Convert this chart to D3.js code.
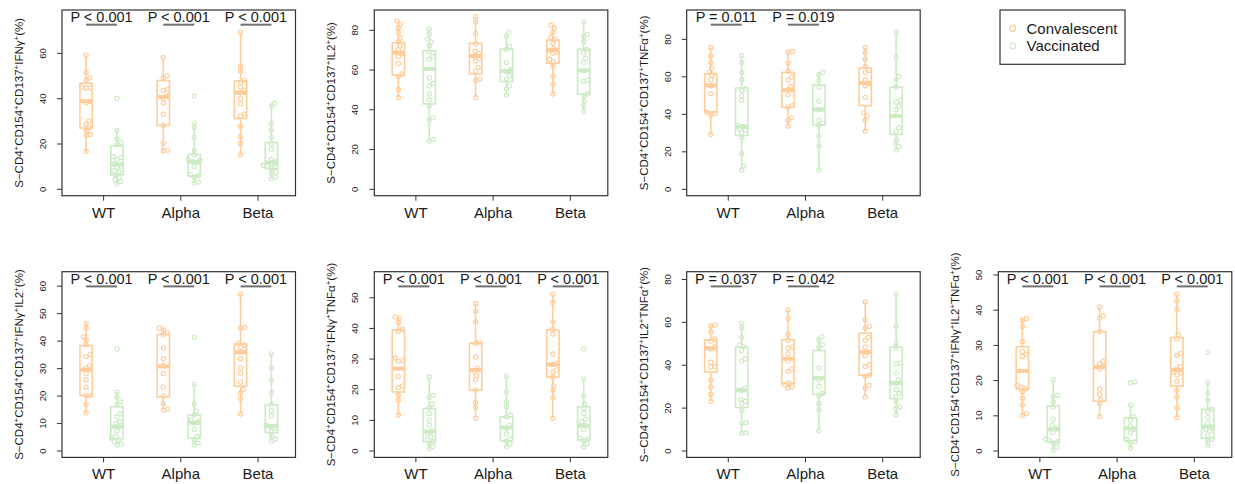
<!DOCTYPE html>
<html><head><meta charset="utf-8">
<script src="https://cdn.jsdelivr.net/npm/d3@7"></script>
<style>body{margin:0;background:#fff}svg{display:block}text{font-family:"Liberation Sans",Arial,Helvetica,sans-serif}</style>
</head><body>
<svg id="chart" width="1235" height="484"></svg>
<script>
const variants = ["WT", "Alpha", "Beta"];
const seriesNames = ["Convalescent", "Vaccinated"];
const seriesColors = ["#FFCD9C", "#CCEBC4"];

// ---- Panel 1: IFNγ ----
const ifngConv = [
  [59, 51.5, 49, 48, 45, 44.5, 44.5, 38.5, 38, 30, 28.5, 27, 25.5, 24, 23.5, 16.5],
  [58, 50, 49, 44, 43.5, 41, 40, 38, 33, 28, 20, 17, 16.8],
  [69, 54, 52, 48, 47, 45, 43.5, 42.5, 40, 37.5, 33, 32, 27.5, 23, 20, 15]
];
const ifngVacc = [
  [40, 25.8, 22, 20.5, 19.6, 14.2, 13.8, 13, 11, 10, 9.5, 8, 7.5, 6.2, 5, 4, 3.2, 2.2],
  [41, 29, 27, 22.8, 17, 15, 13, 12.5, 12, 11.5, 9.8, 6.2, 5.8, 5, 3, 2.5],
  [37.8, 36.5, 29, 26, 22.8, 20, 17.6, 13, 12, 11, 10.4, 10, 9.5, 9, 7.5, 7, 5.2, 4.5]
];
const ifngConvBox = [[16.4, 26.8, 38.7, 46.6, 59], [16.5, 28, 40.6, 47.8, 58], [15, 31.1, 42.4, 47.6, 69]];
const ifngVaccBox = [[2.2, 6.2, 10.8, 18.9, 25.8], [2.5, 5.7, 11.9, 15.2, 29], [4.5, 8.9, 11.6, 20.4, 37.8]];
const ifngP = ["< 0.001", "< 0.001", "< 0.001"];
const ifngTicks = [0, 20, 40, 60];

// ---- Panel 2: IL2 ----
const il2Conv = [
  [84.5, 83, 81, 78.7, 76, 74, 72, 70, 68, 66.5, 63, 57.8, 56.5, 50, 46],
  [86.5, 84, 78.3, 73, 69.2, 68.2, 66.8, 65.5, 64.3, 61, 59.2, 55.2, 54.5, 46],
  [82.3, 80.8, 78.7, 76.2, 75.2, 73.2, 70.7, 69.8, 69, 68.2, 65.2, 64, 61.8, 56.5, 52.5, 47.7]
];
const il2Vacc = [
  [80.3, 78, 75.2, 74, 72, 69, 66.5, 65.2, 55.8, 53, 51.8, 47.7, 44.8, 41.8, 35.7, 34.5, 24.8, 24],
  [78.7, 76.8, 71.8, 70.2, 63.5, 59.8, 59, 56.8, 55.2, 51.8, 50.2, 47.3],
  [83.8, 77.7, 76.5, 74, 70.2, 68.5, 65.7, 63.7, 59.5, 54.8, 54, 47.7, 46.5, 44, 41.8, 39]
];
const il2ConvBox = [[46, 57.3, 68.5, 73.5, 84.5], [46, 57.8, 66.8, 73.2, 86.5], [47.7, 63.2, 69.8, 74.8, 82.3]];
const il2VaccBox = [[24, 42.7, 60.3, 69.5, 80.3], [47.3, 54, 59.3, 70.3, 78.7], [39, 47.7, 59.5, 70.2, 83.8]];
const il2P = [null, null, null];
const il2Ticks = [0, 20, 40, 60, 80];

// ---- Panel 3: TNFα ----
const tnfConv = [
  [75.4, 71, 67.4, 64.4, 62.3, 60.4, 58.2, 55, 50.8, 40.9, 40.2, 39.6, 29],
  [73.3, 72.9, 67.1, 62.7, 59.6, 58.2, 54.7, 52.9, 50.3, 44.4, 43.7, 37.9, 36.6, 33.5],
  [75.4, 72.7, 69.2, 65.3, 63.2, 62.1, 58.2, 56.1, 55, 48.8, 40.5, 38.8, 36.6, 30.8]
];
const tnfVacc = [
  [71, 67.4, 62.1, 58.2, 53.3, 52.4, 49.7, 47.3, 34, 33.3, 32, 31.2, 29.9, 27.3, 18.9, 12.2, 10.1],
  [62.1, 60.9, 57.7, 54.3, 46.7, 42.3, 36.6, 34.9, 34, 28.1, 22.8, 10.1],
  [83.4, 70.3, 60, 58.2, 54.3, 47.1, 46.2, 44.1, 42.3, 39.1, 32.6, 30.8, 26.4, 24.1, 22.5, 20.7]
];
const tnfConvBox = [[29, 41, 55.2, 61.4, 75.4], [33.5, 43.5, 52.6, 62.1, 73.3], [30.8, 44.4, 56.5, 64.4, 75.4]];
const tnfVaccBox = [[10.1, 28.5, 33.1, 53.8, 71], [10.1, 34.2, 42.3, 55.4, 62.1], [20.7, 29, 38.8, 54.2, 83.4]];
const tnfP = ["= 0.011", "= 0.019", null];
const tnfTicks = [0, 20, 40, 60, 80];

// ---- Panel 4: IFNγ IL2 ----
const ifngIl2Conv = [
  [46.3, 44.6, 41.4, 40.2, 38.6, 34.9, 34.2, 31, 30, 28, 25.8, 23.1, 20.1, 20, 16.7, 13.7],
  [44.6, 43.9, 43, 42.2, 37.3, 33.4, 31, 28, 23.1, 19.8, 17.1, 15.1, 14.7],
  [56.9, 44.8, 44.6, 39, 38.4, 37.6, 35.8, 33.4, 30.1, 28.2, 24.9, 22.2, 21, 18.9, 13.3]
];
const ifngIl2Vacc = [
  [37, 21.3, 19.5, 17.7, 16.9, 13.5, 12.3, 10.5, 9.9, 8.7, 7.2, 5.1, 4.5, 3.9, 3.3, 2.3, 2],
  [41.2, 24.1, 16.9, 14.3, 12.9, 11.1, 10.5, 9.9, 7.7, 5.1, 3.9, 2.7, 2],
  [35.2, 30.1, 25.5, 21, 16.7, 14.5, 12.7, 9.3, 8.7, 8.1, 6.9, 5.1, 4.1, 3.5]
];
const ifngIl2ConvBox = [[13.7, 20, 29.4, 38.2, 46.3], [14.7, 19.5, 30.6, 42.2, 44.6], [13.3, 23.4, 35.8, 38.8, 56.9]];
const ifngIl2VaccBox = [[2, 4.3, 8.7, 15.9, 21.3], [2, 4.5, 10.1, 12.9, 24.1], [3.5, 6.5, 8.9, 16.7, 35.2]];
const ifngIl2P = ["< 0.001", "< 0.001", "< 0.001"];
const ifngIl2Ticks = [0, 10, 20, 30, 40, 50, 60];

// ---- Panel 5: IFNγ TNFα ----
const ifngTnfConv = [
  [43.6, 43.2, 41.8, 39.6, 38.9, 30.2, 29.4, 29.2, 24.2, 21.1, 20.5, 18, 16.4, 11.6],
  [47.9, 45.4, 42, 35.3, 35, 30.5, 26.9, 25.8, 24.5, 23.1, 19.7, 15.6, 14, 10.5],
  [51, 48.3, 42, 39.6, 38, 31.5, 28.5, 28.1, 26.3, 25.6, 24, 21.1, 19.7, 17.3, 10.5]
];
const ifngTnfVacc = [
  [24, 18, 17.3, 15.1, 14, 12.1, 10, 8.3, 6.5, 5.6, 4.5, 3.5, 2.9, 2.2, 1.3, 0.5],
  [24.2, 19.1, 15.9, 14.3, 11.6, 11, 8.3, 7.2, 5.4, 3.7, 3.1, 2.2, 1.3],
  [33.2, 23.4, 17.7, 15.1, 13.7, 12.1, 10.2, 9.4, 8.3, 6.9, 4, 3.7, 3.2, 2.2, 1.3]
];
const ifngTnfConvBox = [[11.6, 19.1, 26.7, 39.3, 43.6], [10.5, 19.7, 26.3, 35, 47.9], [10.5, 24, 28, 39.3, 51]];
const ifngTnfVaccBox = [[0.5, 2.9, 6.2, 13.7, 24], [1.3, 3.2, 7.5, 11, 24.2], [1.3, 3.5, 8.1, 14.3, 23.4]];
const ifngTnfP = ["< 0.001", "< 0.001", "< 0.001"];
const ifngTnfTicks = [0, 10, 20, 30, 40, 50];

// ---- Panel 6: IL2 TNFα ----
const il2TnfConv = [
  [58.5, 58.1, 55.4, 52, 51, 48.5, 47.4, 41.2, 39.2, 38.9, 32.7, 29.7, 26.3, 23],
  [65.6, 61.6, 54.1, 51.3, 48.2, 47.7, 45.1, 41.7, 38.1, 36.9, 31.5, 30.7, 29.7, 29.3],
  [69.3, 61, 57.9, 57.1, 52.8, 51.3, 48.2, 45.9, 44.3, 40, 39.2, 35.1, 34.7, 30.4, 29.2, 25]
];
const il2TnfVacc = [
  [59.3, 57.1, 52.8, 49.3, 48.5, 46.6, 42.8, 41.7, 29.2, 28.1, 23.9, 23, 21.9, 18.8, 13, 12.7, 8.3, 8],
  [53.1, 51.6, 49.4, 48.2, 38.5, 33, 30, 26.6, 25.3, 21.9, 19.2, 9.3],
  [72.9, 58.2, 50, 47.9, 40.8, 40.5, 36.1, 33, 31.2, 28.4, 26.6, 25, 22.7, 20.4, 19.6, 16.8]
];
const il2TnfConvBox = [[23, 36.6, 47.7, 51.6, 58.5], [29.3, 31.2, 42.8, 51.7, 65.6], [25, 35.1, 45.9, 54.7, 69.3]];
const il2TnfVaccBox = [[8, 20.1, 28.1, 48.2, 59.3], [9.3, 26.3, 33.8, 46.6, 53.1], [16.8, 24.2, 31.5, 48.2, 72.9]];
const il2TnfP = ["= 0.037", "= 0.042", null];
const il2TnfTicks = [0, 20, 40, 60, 80];

// ---- Panel 7: IFNγ IL2 TNFα ----
const tripleConv = [
  [37.5, 37, 35.2, 31, 28.1, 27.4, 26.7, 18.5, 18, 17.6, 16.8, 14.9, 12.9, 10.5, 10],
  [40.8, 38.3, 37.6, 33.8, 25.4, 24.6, 23.9, 23.2, 17.4, 16, 14.5, 13.3, 9.6],
  [44.4, 42.5, 40.1, 32.9, 31.7, 27.6, 27, 23.9, 23.2, 22.3, 22, 21.5, 19.7, 17.1, 15.2, 12.1, 9.4]
];
const tripleVacc = [
  [20.1, 15.7, 15.4, 13.8, 12.4, 8.8, 7.2, 6.3, 5.2, 3.2, 2.8, 2.5, 2.1, 0.9, 0.2],
  [19.5, 19.2, 12.9, 9.6, 8.6, 7, 6, 5.1, 3, 2.5, 2.3, 0.7],
  [27.9, 19.3, 16.2, 14.3, 11.7, 11, 9.4, 7.7, 6.6, 6, 5.5, 4.4, 3.2, 2.7, 1.3]
];
const tripleConvBox = [[10, 17.4, 22.6, 29.5, 37.5], [9.6, 14, 23.7, 33.8, 40.8], [9.4, 18.3, 22.9, 32.1, 44.4]];
const tripleVaccBox = [[0.2, 2.5, 6, 12.7, 20.1], [0.7, 2.8, 6.3, 9.3, 12.9], [1.3, 3.5, 6.8, 11.7, 19.3]];
const tripleP = ["< 0.001", "< 0.001", "< 0.001"];
const tripleTicks = [0, 10, 20, 30, 40, 50];

// Axis-title markers (after the common S−CD4⁺CD154⁺CD137⁺ prefix)
const ifngMarkers = ["IFNγ"];
const il2Markers = ["IL2"];
const tnfMarkers = ["TNFα"];
const ifngIl2Markers = ["IFNγ", "IL2"];
const ifngTnfMarkers = ["IFNγ", "TNFα"];
const il2TnfMarkers = ["IL2", "TNFα"];
const tripleMarkers = ["IFNγ", "IL2", "TNFα"];

const panels = [
  {row: 0, col: 0, conv: ifngConv, vacc: ifngVacc, convBox: ifngConvBox, vaccBox: ifngVaccBox, p: ifngP, ticks: ifngTicks, markers: ifngMarkers},
  {row: 0, col: 1, conv: il2Conv, vacc: il2Vacc, convBox: il2ConvBox, vaccBox: il2VaccBox, p: il2P, ticks: il2Ticks, markers: il2Markers},
  {row: 0, col: 2, conv: tnfConv, vacc: tnfVacc, convBox: tnfConvBox, vaccBox: tnfVaccBox, p: tnfP, ticks: tnfTicks, markers: tnfMarkers},
  {row: 1, col: 0, conv: ifngIl2Conv, vacc: ifngIl2Vacc, convBox: ifngIl2ConvBox, vaccBox: ifngIl2VaccBox, p: ifngIl2P, ticks: ifngIl2Ticks, markers: ifngIl2Markers},
  {row: 1, col: 1, conv: ifngTnfConv, vacc: ifngTnfVacc, convBox: ifngTnfConvBox, vaccBox: ifngTnfVaccBox, p: ifngTnfP, ticks: ifngTnfTicks, markers: ifngTnfMarkers},
  {row: 1, col: 2, conv: il2TnfConv, vacc: il2TnfVacc, convBox: il2TnfConvBox, vaccBox: il2TnfVaccBox, p: il2TnfP, ticks: il2TnfTicks, markers: il2TnfMarkers},
  {row: 1, col: 3, conv: tripleConv, vacc: tripleVacc, convBox: tripleConvBox, vaccBox: tripleVaccBox, p: tripleP, ticks: tripleTicks, markers: tripleMarkers}
];

// ---------------- layout ----------------
const colLeft = [62, 374.3, 686.7, 998.3];
const plotW = 233.5;
const rowTop = [10, 271.7];
const plotH = 185.7;
const convPos = [1, 3.5, 6], vaccPos = [2, 4.5, 7], labelPos = [1.55, 4.05, 6.55];
const FRAME = "#333";
const TXT = "#1a1a1a";

const svg = d3.select("#chart");

function swarm(vals, y, cx, d) {
  const pts = vals.map(v => ({v, y: y(v)})).sort((a, b) => a.v - b.v);
  const placed = [];
  for (const p of pts) {
    const cands = [0];
    for (const q of placed) {
      const dy = Math.abs(q.y - p.y);
      if (dy < d) { const dx = Math.sqrt(d * d - dy * dy); cands.push(q.x + dx, q.x - dx); }
    }
    cands.sort((a, b) => Math.abs(a) - Math.abs(b));
    for (const c of cands) {
      if (placed.every(q => (q.x - c) ** 2 + (q.y - p.y) ** 2 >= d * d - 0.01)) { p.x = c; break; }
    }
    if (p.x === undefined) p.x = 0;
    placed.push(p);
  }
  return placed.map(p => ({x: cx + p.x, y: p.y}));
}

panels.forEach(P => {
  const x0 = colLeft[P.col], y0 = rowTop[P.row];
  const g = svg.append("g");
  const allVals = P.conv.flat().concat(P.vacc.flat());
  const maxV = d3.max(allVals);
  const hasP = P.p.some(v => v);
  const R = hasP ? maxV * 1.1 : maxV;
  const y = d3.scaleLinear().domain([-0.04 * R, 1.04 * R]).range([y0 + plotH, y0]);
  const x = d3.scaleLinear().domain([0.22, 7.78]).range([x0, x0 + plotW]);
  const boxW = x(1.4) - x(1);

  // y axis
  const yAxis = d3.axisLeft(y).tickValues(P.ticks).tickSize(5).tickSizeOuter(0).tickFormat(d3.format("d"));
  const ya = g.append("g").attr("transform", `translate(${x0},0)`).call(yAxis);
  ya.select(".domain").remove();
  ya.selectAll("line").attr("stroke", FRAME);
  ya.selectAll("text").attr("x", null).attr("dy", null).attr("y", 0)
    .attr("text-anchor", "middle").attr("font-size", 9.5).attr("fill", TXT)
    .attr("transform", "translate(-16,0) rotate(-90)");

  // x axis
  const xAxis = d3.axisBottom(x).tickValues(labelPos).tickSize(5).tickSizeOuter(0).tickFormat((d, i) => variants[i]);
  const xa = g.append("g").attr("transform", `translate(0,${y0 + plotH})`).call(xAxis);
  xa.select(".domain").remove();
  xa.selectAll("line").attr("stroke", FRAME);
  xa.selectAll("text").attr("font-size", 15).attr("fill", TXT).attr("y", 22).attr("dy", null);

  // y title
  const t = g.append("text").attr("transform", `translate(${x0 - 39},${y0 + plotH / 2}) rotate(-90)`)
    .attr("text-anchor", "middle").attr("font-size", 11.5).attr("fill", TXT);
  const parts = ["S\u2212CD4", "CD154", "CD137"].concat(P.markers);
  parts.forEach((s, i) => {
    t.append("tspan").attr("dy", i === 0 ? 0 : 4).text(s);
    t.append("tspan").attr("dy", -4).attr("font-size", 8).text("+");
  });
  t.append("tspan").attr("dy", 4).text("(%)");

  // boxes
  const series = [
    {data: P.conv, box: P.convBox, pos: convPos, color: seriesColors[0]},
    {data: P.vacc, box: P.vaccBox, pos: vaccPos, color: seriesColors[1]}
  ];
  series.forEach(S => {
    S.box.forEach((b, i) => {
      const cx = x(S.pos[i]);
      const bg = g.append("g").attr("stroke", S.color).attr("fill", "none");
      bg.append("line").attr("x1", cx).attr("x2", cx).attr("y1", y(b[3])).attr("y2", y(b[4])).attr("stroke-width", 1.6);
      bg.append("line").attr("x1", cx).attr("x2", cx).attr("y1", y(b[1])).attr("y2", y(b[0])).attr("stroke-width", 1.6);
      bg.append("rect").attr("x", cx - boxW / 2).attr("width", boxW).attr("y", y(b[3])).attr("height", y(b[1]) - y(b[3])).attr("stroke-width", 1.6);
      bg.append("line").attr("x1", cx - boxW / 2).attr("x2", cx + boxW / 2).attr("y1", y(b[2])).attr("y2", y(b[2])).attr("stroke-width", 4);
    });
  });
  // points
  series.forEach(S => {
    S.data.forEach((vals, i) => {
      const pts = swarm(vals, y, x(S.pos[i]), 4.4);
      g.append("g").selectAll("circle").data(pts).join("circle")
        .attr("cx", d => d.x).attr("cy", d => d.y).attr("r", 2.1)
        .attr("fill", "none").attr("stroke", S.color).attr("stroke-width", 1.1);
    });
  });

  // frame
  g.append("rect").attr("x", x0).attr("y", y0).attr("width", plotW).attr("height", plotH)
    .attr("fill", "none").attr("stroke", FRAME).attr("stroke-width", 1.2);

  // p-values
  P.p.forEach((pv, i) => {
    if (!pv) return;
    g.append("line").attr("x1", x(convPos[i])).attr("x2", x(vaccPos[i]))
      .attr("y1", y(maxV * 1.05)).attr("y2", y(maxV * 1.05)).attr("stroke", "#707070").attr("stroke-width", 2);
    g.append("text").attr("x", x((convPos[i] + vaccPos[i]) / 2)).attr("y", y(R) + 5.2)
      .attr("text-anchor", "middle").attr("font-size", 14.5).attr("fill", TXT).text("P " + pv);
  });
});

// legend
const lg = svg.append("g");
lg.append("rect").attr("x", 1000).attr("y", 10).attr("width", 125).attr("height", 54.3)
  .attr("fill", "#fff").attr("stroke", FRAME).attr("stroke-width", 1.2);
seriesNames.forEach((n, i) => {
  const cy = 28.3 + i * 17.7;
  lg.append("circle").attr("cx", 1012.7).attr("cy", cy).attr("r", 3).attr("fill", "none")
    .attr("stroke", seriesColors[i]).attr("stroke-width", 1.2);
  lg.append("text").attr("x", 1026.5).attr("y", cy + 5.3).attr("font-size", 15).attr("fill", TXT).text(n);
});
</script>
</body></html>
